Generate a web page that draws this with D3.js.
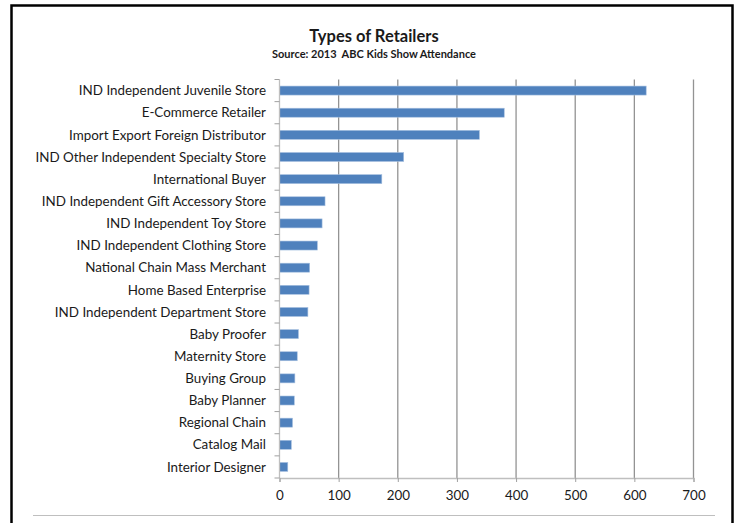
<!DOCTYPE html>
<html lang="en">
<head>
<meta charset="utf-8" />
<title>Types of Retailers</title>
<script src="https://cdn.jsdelivr.net/npm/d3@7"></script>
<style>
  body { margin: 0; background: #fff; }
  text { font-family: Lato, "Open Sans", sans-serif; fill: #1a1a1a; }
</style>
</head>
<body>
<script>
// data
var categories = [
  "IND Independent Juvenile Store",
  "E-Commerce Retailer",
  "Import Export Foreign Distributor",
  "IND Other Independent Specialty Store",
  "International Buyer",
  "IND Independent Gift Accessory Store",
  "IND Independent Toy Store",
  "IND Independent Clothing Store",
  "National Chain Mass Merchant",
  "Home Based Enterprise",
  "IND Independent Department Store",
  "Baby Proofer",
  "Maternity Store",
  "Buying Group",
  "Baby Planner",
  "Regional Chain",
  "Catalog Mail",
  "Interior Designer"
];
var values = [620, 380, 338, 210, 173, 77, 72, 64, 51, 50, 48, 32, 30, 26, 25, 22, 20, 14];
var xTicks = [0, 100, 200, 300, 400, 500, 600, 700];

var width = 741, height = 523;
var plotLeft = 279.5, plotRight = 693.5, plotTop = 79.5, plotBottom = 478;

var svg = d3.select("body").append("svg")
  .attr("width", width)
  .attr("height", height);

// frame
svg.append("path")
  .attr("d", "M11.5,530 V5.5 H732.5 V530")
  .attr("fill", "none")
  .attr("stroke", "#000")
  .attr("stroke-width", 2.5);
svg.append("line")
  .attr("x1", 33).attr("x2", 715)
  .attr("y1", 515.5).attr("y2", 515.5)
  .attr("stroke", "#bfbfbf");

// titles
svg.append("text")
  .attr("x", 374).attr("y", 42)
  .attr("text-anchor", "middle")
  .style("font-size", "16.5px").style("font-weight", "bold")
  .text("Types of Retailers");
svg.append("text")
  .attr("x", 374).attr("y", 58)
  .attr("text-anchor", "middle")
  .style("font-size", "11px").style("font-weight", "bold")
  .style("white-space", "pre")
  .text("Source: 2013  ABC Kids Show Attendance");

var x = d3.scaleLinear().domain([0, 700]).range([plotLeft, plotRight]);
var yBand = d3.scaleBand().domain(categories).range([plotTop, plotBottom]);

// gridlines
svg.append("g")
  .selectAll("line")
  .data(xTicks.slice(1))
  .enter().append("line")
  .attr("x1", function (d) { return x(d); })
  .attr("x2", function (d) { return x(d); })
  .attr("y1", plotTop).attr("y2", plotBottom)
  .attr("stroke", "#939393")
  .attr("stroke-width", 1.3);

// bars
svg.append("g")
  .selectAll("rect")
  .data(values)
  .enter().append("rect")
  .attr("x", x(0))
  .attr("y", function (d, i) { return yBand(categories[i]) + yBand.bandwidth() / 2 - 4.5; })
  .attr("width", function (d) { return x(d) - x(0); })
  .attr("height", 9)
  .attr("fill", "#4f81bd")
  .attr("stroke", "#a7c0e0")
  .attr("stroke-width", 0.6);

// y axis
var yAxisG = svg.append("g");
yAxisG.append("line")
  .attr("x1", plotLeft).attr("x2", plotLeft)
  .attr("y1", plotTop).attr("y2", plotBottom)
  .attr("stroke", "#bfbfbf").attr("stroke-width", 1.3);
yAxisG.selectAll(".tk")
  .data(categories.concat(["end"]))
  .enter().append("line")
  .attr("x1", plotLeft - 5).attr("x2", plotLeft)
  .attr("y1", function (d, i) { return plotTop + i * yBand.step(); })
  .attr("y2", function (d, i) { return plotTop + i * yBand.step(); })
  .attr("stroke", "#a0a0a0");
yAxisG.selectAll("text")
  .data(categories)
  .enter().append("text")
  .attr("x", 266)
  .attr("y", function (d) { return yBand(d) + yBand.bandwidth() / 2; })
  .attr("dy", "0.35em")
  .attr("text-anchor", "end")
  .style("font-size", "13.4px")
  .text(function (d) { return d; });

// x axis
var xAxis = d3.axisBottom(x).tickValues(xTicks).tickSize(4).tickPadding(8);
var xg = svg.append("g")
  .attr("transform", "translate(0," + plotBottom + ")")
  .call(xAxis);
xg.select(".domain").attr("stroke", "#bfbfbf").attr("stroke-width", 1.3);
xg.selectAll(".tick line").attr("stroke", "#a0a0a0");
xg.selectAll(".tick text")
  .style("font-family", "Lato, 'Open Sans', sans-serif")
  .style("font-size", "13.4px")
  .attr("fill", "#1a1a1a");
</script>
</body>
</html>
